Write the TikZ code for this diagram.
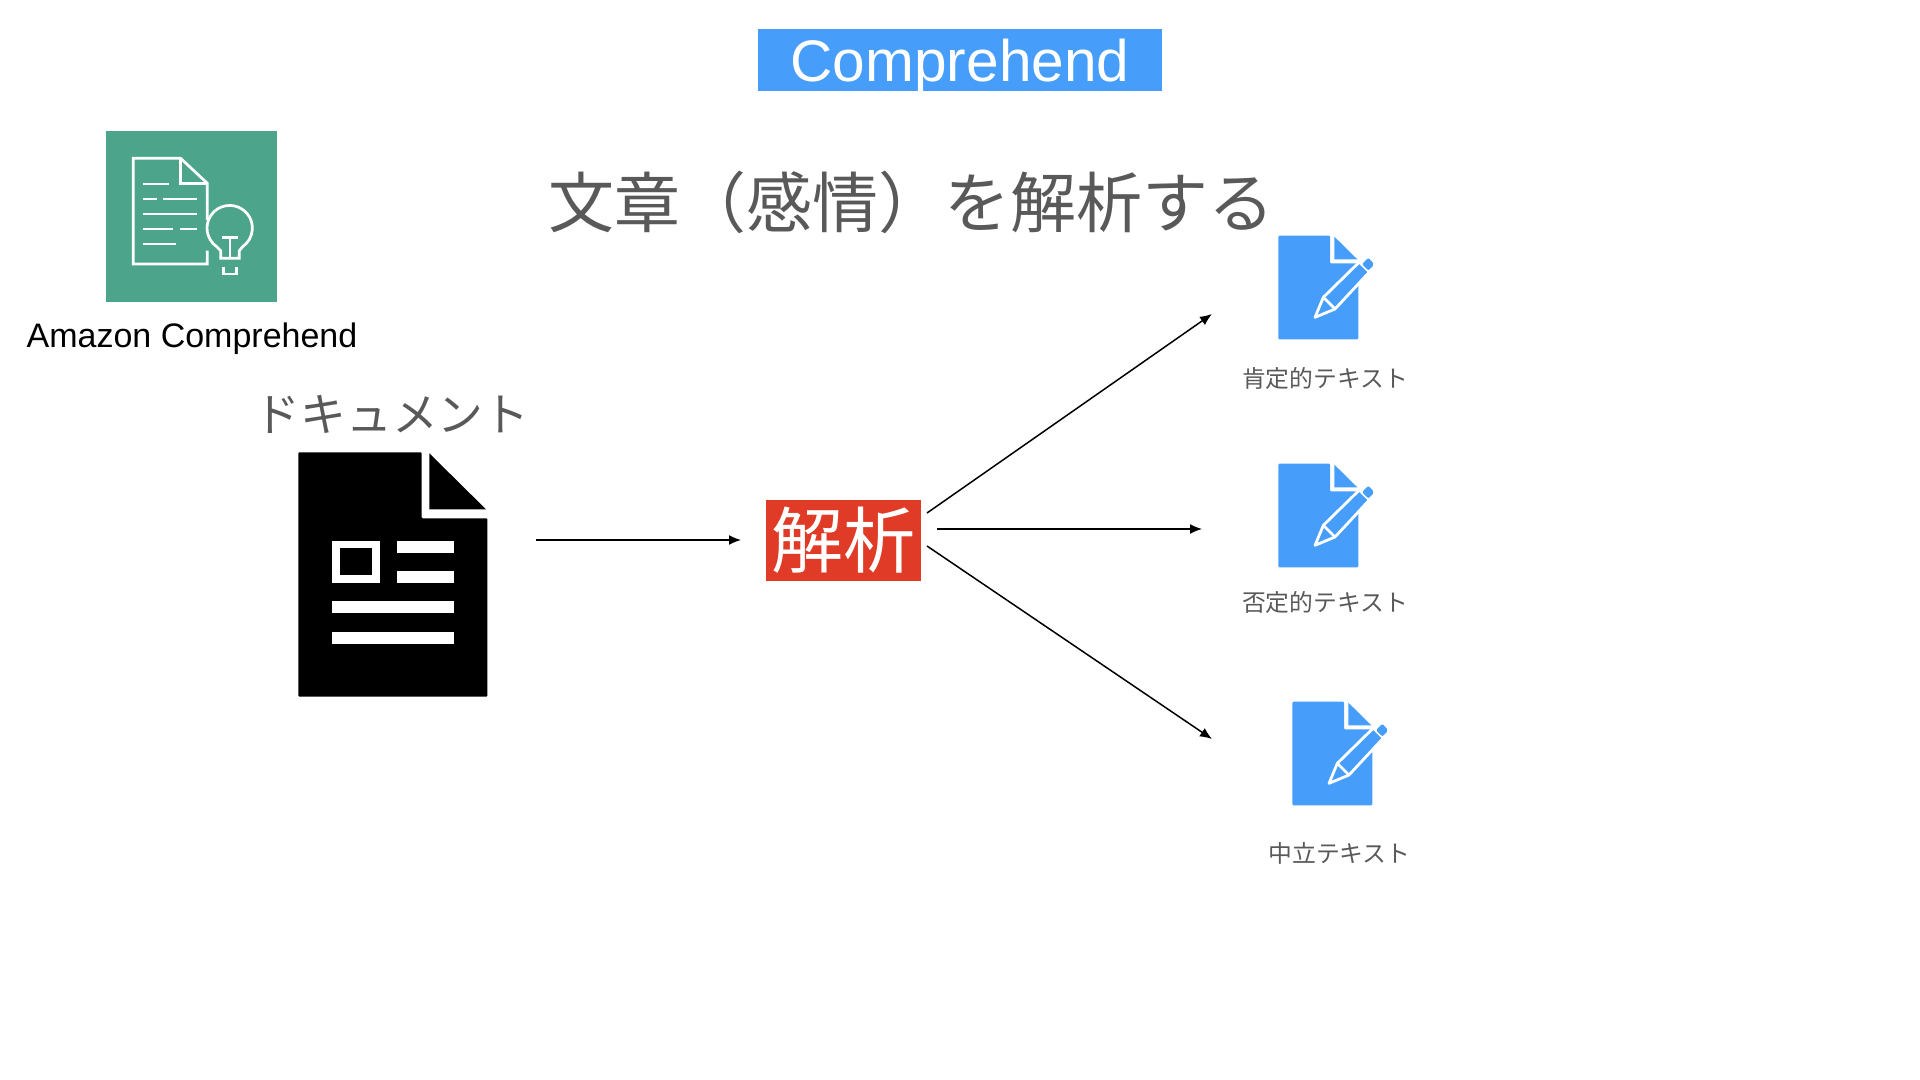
\documentclass[tikz,border=0pt]{standalone}
\usetikzlibrary{arrows.meta}
\usepackage{fontspec}
\setmainfont{Liberation Sans}
\newfontfamily\cjk{Noto Sans CJK JP}
\newcommand{\penDoc}[1]{%
    \begin{scope}[shift={(#1)},x=0.16667pt,y=-0.16667pt]
    \fill[comp_blue,rounded corners=0.5pt] (115,47) -- (270,47) -- (270,130) -- (355,130) -- (355,358) -- (115,358) -- cycle;
    \fill[comp_blue] (283,50) -- (352,118) -- (283,118) -- cycle;
    \draw[white,fill=comp_blue,line width=1.4pt,line join=round] (225,292) -- (250,232) -- (358,126) -- (388,156) -- (285,267) -- cycle;
    \draw[white,line width=1.4pt] (250,232) -- (285,267);
    \fill[comp_blue,rounded corners=1pt] (366,132) -- (385,113) -- (403,133) -- (385,152) -- cycle;
    \end{scope}}
\begin{document}
\begin{tikzpicture}[x=0.5pt,y=-0.5pt]
    \definecolor{comp_blue}{RGB}{70,158,250}
    \definecolor{comp_green}{RGB}{76,165,139}
    \definecolor{comp_red}{RGB}{223,59,38}
    \definecolor{comp_text}{RGB}{89,89,89}
    \tikzset{
        jatext/.style={text=comp_text,font=\cjk\fontsize{#1}{#1}\selectfont,inner sep=0pt},
        flow/.style={draw,-{Latex[length=6pt,width=5pt]},line width=0.75pt}
    }
    \useasboundingbox (0,0) rectangle (1920,1080);

    \node[shape=rectangle,fill=comp_blue,text=white,minimum width=202pt,minimum height=31pt,inner sep=0pt,text height=21.5pt,text depth=0pt,font=\fontsize{29.3}{29.3}\selectfont] (service) at (960,60) {Comprehend};
    \node[jatext=33] (title) at (911,202) {文章（感情）を解析する};

    % service icon
    \node[shape=rectangle,fill=comp_green,minimum width=85.5pt,minimum height=85.5pt,inner sep=0pt] (icon) at (191.5,216.5) {};
    \begin{scope}[shift={(90,120)},x=0.16667pt,y=-0.16667pt,white,line width=1.35pt]
    \draw (352,392) -- (352,432) -- (130,432) -- (130,115) -- (272,115) -- (352,190) -- (352,300);
    \draw (272,115) -- (272,190) -- (352,190);
    \draw (160,192) -- (238,192);
    \draw (160,237) -- (200,237);
    \draw (220,237) -- (320,237);
    \draw (160,282) -- (320,282);
    \draw (160,327) -- (250,327);
    \draw (270,327) -- (320,327);
    \draw (160,372) -- (258,372);
    \draw (392,415) -- (392,392) -- (380,380) arc[start angle=125,end angle=415,radius=68] -- (448,392) -- (448,415) -- cycle;
    \draw (420,352) -- (420,415);
    \draw (396,352) -- (444,352);
    \draw (400,440) -- (400,462) -- (440,462) -- (440,440);
    \end{scope}
    \node[inner sep=0pt,font=\fontsize{17}{17}\selectfont] (iconlabel) at (192,339) {Amazon Comprehend};

    % document
    \node[jatext=22.9] (doclabel) at (392,414) {ドキュメント};
    \begin{scope}[shift={(280,440)},x=0.16667pt,y=-0.16667pt]
    \fill[rounded corners=0.5pt] (55,37) -- (425,37) -- (425,235) -- (622,235) -- (622,770) -- (55,770) -- cycle;
    \fill (448,40) -- (618,208) -- (448,208) -- cycle;
    \fill[white] (157,302) rectangle (301,430);
    \fill (181,325) rectangle (277,405);
    \fill[white] (351,302) rectangle (521,338);
    \fill[white] (351,393) rectangle (521,429);
    \fill[white] (157,484) rectangle (521,520);
    \fill[white] (157,575) rectangle (521,611);
    \end{scope}

    \node[shape=rectangle,fill=comp_red,text=white,minimum width=77.5pt,minimum height=40.5pt,inner sep=0pt,font=\cjk\fontsize{36}{36}\selectfont] (analyze) at (843.5,540) {解析};

    % results
    \penDoc{1240,220}
    \penDoc{1240,448}
    \penDoc{1254,686}
    \node[jatext=11.9] (positive) at (1325,378.5) {肯定的テキスト};
    \node[jatext=11.9] (negative) at (1325,602.5) {否定的テキスト};
    \node[jatext=11.9] (neutral) at (1339.5,853.5) {中立テキスト};

    \coordinate (docout) at (536,540);
    \coordinate (analyzein) at (741,540);
    \coordinate (upstart) at (927,513);
    \coordinate (upend) at (1212,314);
    \coordinate (midstart) at (937,529);
    \coordinate (midend) at (1202,529);
    \coordinate (lowstart) at (927,546);
    \coordinate (lowend) at (1212,739);
    \draw[flow] (docout) -- (analyzein);
    \draw[flow] (upstart) -- (upend);
    \draw[flow] (midstart) -- (midend);
    \draw[flow] (lowstart) -- (lowend);
\end{tikzpicture}
\end{document}
